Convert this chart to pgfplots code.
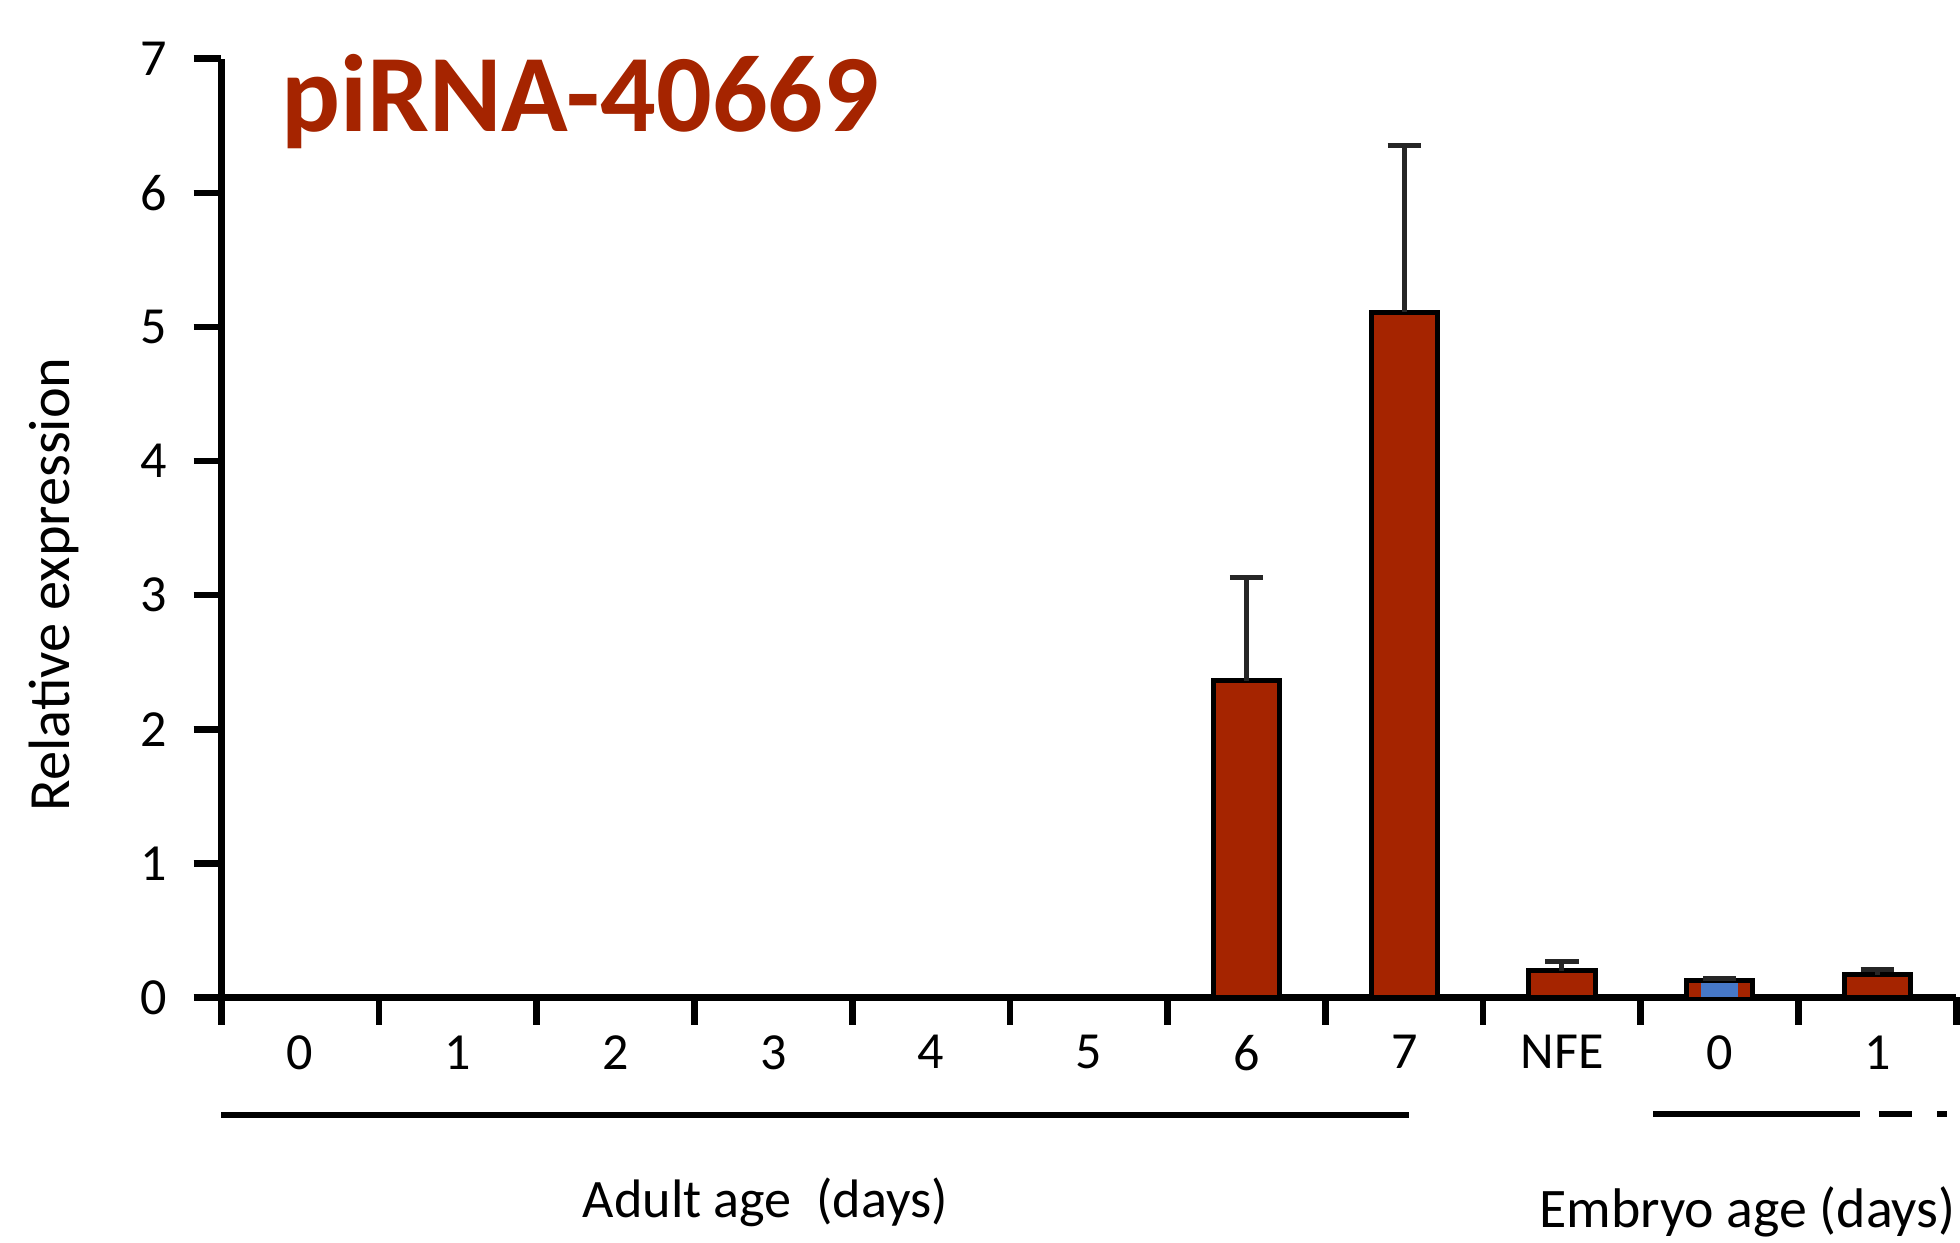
\documentclass[border=0pt]{standalone}
\usepackage{pgfplots}
\pgfplotsset{compat=1.18}
\usepackage{fontspec}
\setmainfont{Carlito}
\definecolor{barred}{RGB}{165,36,0}
\definecolor{slblue}{RGB}{70,120,200}
\begin{document}
\begin{tikzpicture}
\begin{axis}[
  name=ax,
  scale only axis, width=416.4pt, height=225.3pt,
  xmin=-0.5, xmax=10.5, ymin=0, ymax=7,
  axis x line*=bottom, axis y line*=left,
  axis line style={line width=1.6pt, -},
  tick align=outside,
  major tick length=6.6pt, minor tick length=6.6pt,
  every tick/.style={line width=1.6pt, black},
  major y tick style={line width=1.6pt, black},
  xtick={0,1,2,3,4,5,6,7,8,9,10},
  xticklabels={0,1,2,3,4,5,6,7,NFE,0,1},
  major x tick style={draw=none},
  minor xtick={-0.5,0.5,1.5,2.5,3.5,4.5,5.5,6.5,7.5,8.5,9.5,10.5},
  minor x tick style={line width=1.6pt, black},
  ytick={0,1,2,3,4,5,6,7},
  /pgf/number format/assume math mode=true,
  ticklabel style={font=\fontsize{12.5}{14}\selectfont},
  xticklabel style={yshift=1pt},
  yticklabel style={xshift=-3pt},
  ylabel={Relative expression},
  every axis y label/.style={at={(axis description cs:-0.0966,0.44)}, rotate=90, anchor=center, font=\fontsize{14}{16}\selectfont},
  clip=false,
  ybar, bar width=15.9pt,
]
\addplot[fill=barred, draw=black, line width=1.2pt, bar shift=0pt]
  coordinates {(0,0) (1,0) (2,0) (3,0) (4,0) (5,0)};
\addplot[fill=barred, draw=black, line width=1.2pt, bar shift=0pt,
  error bars/.cd, y dir=plus, y explicit,
  error bar style={line width=1.2pt, black!85},
  error mark options={rotate=90, mark size=4pt, line width=1.2pt, black!85}]
  table[x=x, y=y, y error=e] {
  x y e
  6 2.36 0.77
  7 5.11 1.24
  8 0.20 0.07
  9 0.125 0.02
  10 0.17 0.04
  };
\addplot[fill=barred, draw=none, bar shift=0pt, bar width=14.5pt]
  coordinates {(9,0.085)};
\addplot[fill=slblue, draw=none, bar shift=0pt, bar width=9pt]
  coordinates {(9,0.105)};
% group lines
\draw[line width=1.4pt] (axis cs:-0.5,-0.876) -- (axis cs:7.03,-0.876);
\draw[line width=1.4pt] (axis cs:8.58,-0.866) -- (axis cs:9.89,-0.866);
\draw[line width=1.4pt] (axis cs:10.01,-0.866) -- (axis cs:10.22,-0.866);
\draw[line width=1.4pt] (axis cs:10.38,-0.866) -- (axis cs:10.44,-0.866);
\node[font=\fontsize{13}{15}\selectfont] at (axis cs:2.95,-1.53) {Adult age\ \ (days)};
\node[font=\fontsize{13.4}{15}\selectfont, anchor=east, inner sep=0pt] at (axis cs:10.5,-1.60) {Embryo age (days)};
\node[font=\fontsize{26.4}{30}\selectfont\bfseries, text=barred, anchor=base west, inner sep=0pt] at (axis description cs:0.034,0.922) {piRNA-40669};
\end{axis}
\pgfresetboundingbox
\path ([shift={(-53.1pt,-58.8pt)}]ax.south west) rectangle ([shift={(0.9pt,14.1pt)}]ax.north east);
\end{tikzpicture}
\end{document}
